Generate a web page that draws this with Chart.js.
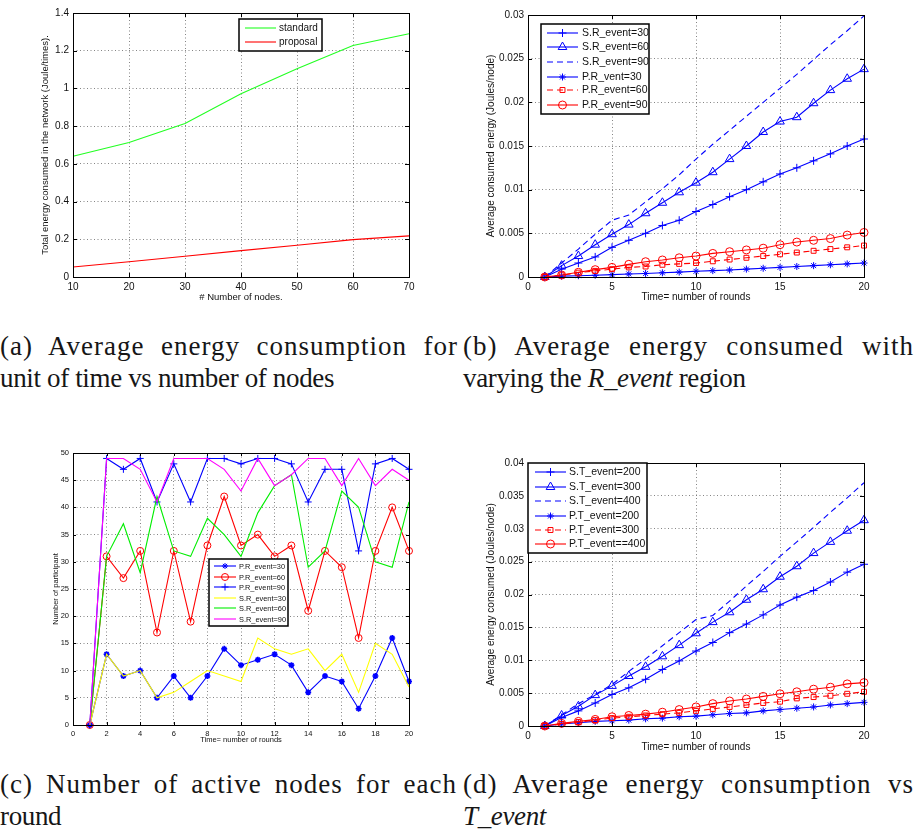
<!DOCTYPE html>
<html>
<head>
<meta charset="utf-8">
<script src="https://cdn.jsdelivr.net/npm/chart.js@4.4.0/dist/chart.umd.min.js"></script>
<style>
  body { margin: 0; background: #fff; width: 915px; height: 836px; position: relative; overflow: hidden; }
  canvas { position: absolute; }
  .cap { position: absolute; font-family: "Liberation Serif", serif; font-size: 27px; line-height: 32px; color: #161616; white-space: nowrap; }
  .just { text-align: justify; text-align-last: justify; letter-spacing: 1px; }
  .tail { letter-spacing: -0.35px; }
</style>
</head>
<body>
<canvas id="chartA" width="460" height="303" style="left:0;top:0"></canvas>
<canvas id="chartB" width="455" height="303" style="left:460px;top:0"></canvas>
<canvas id="chartC" width="460" height="304" style="left:0;top:440px"></canvas>
<canvas id="chartD" width="455" height="313" style="left:460px;top:440px"></canvas>

<div class="cap just" style="left:0;top:330px;width:458px">(a) Average energy consumption for</div>
<div class="cap tail" style="left:0;top:362px">unit of time vs number of nodes</div>
<div class="cap just" style="left:463px;top:330px;width:451px">(b) Average energy consumed with</div>
<div class="cap tail" style="left:463px;top:362px">varying the <i>R_event</i> region</div>
<div class="cap just" style="left:0;top:768px;width:457px">(c) Number of active nodes for each</div>
<div class="cap tail" style="left:0;top:800px">round</div>
<div class="cap just" style="left:463px;top:768px;width:451px">(d) Average energy consumption vs</div>
<div class="cap tail" style="left:463px;top:800px"><i>T_event</i></div>

<script>
const SANS = '"Liberation Sans", Arial, sans-serif';

// (a) energy vs number of nodes
const nodes = [10, 20, 30, 40, 50, 60, 70];
const standardEnergy = [0.64, 0.713, 0.814, 0.972, 1.104, 1.228, 1.29];
const proposalEnergy = [0.053, 0.081, 0.11, 0.14, 0.168, 0.198, 0.218];
const ticksAx = [10, 20, 30, 40, 50, 60, 70];
const ticksAy = [0, 0.2, 0.4, 0.6, 0.8, 1, 1.2, 1.4];

// rounds shared by (b), (c), (d)
const rounds = [1, 2, 3, 4, 5, 6, 7, 8, 9, 10, 11, 12, 13, 14, 15, 16, 17, 18, 19, 20];

// (b) R_event region
const bSR30 = [0, 0.0009, 0.0016, 0.0023, 0.0034, 0.0042, 0.0050, 0.0059, 0.0065, 0.0075, 0.0083, 0.0092, 0.0100, 0.0109, 0.0118, 0.0125, 0.0133, 0.0141, 0.0150, 0.0158];
const bSR60 = [0, 0.0013, 0.0024, 0.0037, 0.0049, 0.0060, 0.0073, 0.0085, 0.0097, 0.0108, 0.0120, 0.0135, 0.0150, 0.0166, 0.0178, 0.0183, 0.0199, 0.0214, 0.0227, 0.0238];
const bSR90 = [0, 0.0016, 0.0032, 0.0049, 0.0065, 0.0071, 0.0086, 0.0101, 0.0117, 0.0135, 0.0152, 0.0168, 0.0184, 0.0200, 0.0216, 0.0232, 0.0249, 0.0266, 0.0282, 0.0299];
const bPR30 = [0, 0.0001, 0.00015, 0.0002, 0.00027, 0.00035, 0.0004, 0.00048, 0.00056, 0.00065, 0.00073, 0.0008, 0.0009, 0.001, 0.0011, 0.0012, 0.0013, 0.0014, 0.0015, 0.0016];
const bPR60 = [0, 0.0002, 0.0005, 0.0007, 0.0009, 0.0011, 0.0012, 0.0014, 0.0015, 0.0016, 0.0018, 0.0020, 0.0022, 0.0024, 0.0026, 0.0028, 0.0030, 0.0032, 0.0034, 0.0036];
const bPR90 = [0, 0.00023, 0.00054, 0.00084, 0.0011, 0.00145, 0.00175, 0.00195, 0.0022, 0.0024, 0.0027, 0.0029, 0.0031, 0.0033, 0.0037, 0.0040, 0.0042, 0.0044, 0.0048, 0.0051];
const ticksBx = [0, 5, 10, 15, 20];
const ticksBy = [0, 0.005, 0.01, 0.015, 0.02, 0.025, 0.03];

// (c) participants per round
const cPR30 = [0, 13, 9, 10, 5, 9, 5, 9, 14, 11, 12, 13, 11, 6, 9, 8, 3, 9, 16, 8];
const cPR60 = [0, 31, 27, 32, 17, 32, 19, 33, 42, 33, 35, 31, 33, 21, 32, 29, 16, 32, 40, 32];
const cPR90 = [0, 49, 47, 49, 41, 48, 41, 49, 49, 48, 49, 49, 48, 41, 47, 47, 32, 48, 49, 47];
const cSR30 = [0, 13, 9, 10, 5, 6, 8, 10, 9, 8, 16, 14, 13, 14, 10, 13, 6, 15, 13, 7];
const cSR60 = [0, 31, 37, 28, 42, 32, 31, 38, 35, 31, 39, 44, 46, 29, 32, 43, 40, 30, 29, 41];
const cSR90 = [0, 49, 49, 47, 41, 49, 49, 49, 47, 43, 49, 44, 46, 49, 49, 44, 49, 44, 47, 45];
const ticksCx = [0, 2, 4, 6, 8, 10, 12, 14, 16, 18, 20];
const ticksCy = [0, 5, 10, 15, 20, 25, 30, 35, 40, 45, 50];

// (d) T_event
const dST200 = [0, 0.0013, 0.0023, 0.0035, 0.0048, 0.0058, 0.0071, 0.0086, 0.0099, 0.0114, 0.0127, 0.0142, 0.0155, 0.0169, 0.0184, 0.0196, 0.0206, 0.0219, 0.0234, 0.0246];
const dST300 = [0, 0.0016, 0.0030, 0.0047, 0.0061, 0.0076, 0.0090, 0.0106, 0.0123, 0.0141, 0.0158, 0.0173, 0.0192, 0.0208, 0.0227, 0.0243, 0.0263, 0.0280, 0.0297, 0.0313];
const dST400 = [0, 0.0017, 0.0034, 0.0048, 0.0063, 0.0083, 0.0102, 0.0122, 0.0142, 0.0162, 0.0168, 0.0190, 0.0213, 0.0235, 0.0258, 0.0280, 0.0302, 0.0325, 0.0347, 0.0370];
const dPT200 = [0, 0.0003, 0.0005, 0.0007, 0.0008, 0.0009, 0.0011, 0.0012, 0.0014, 0.0015, 0.0017, 0.0019, 0.0020, 0.0023, 0.0025, 0.0027, 0.0029, 0.0032, 0.0034, 0.0036];
const dPT300 = [0, 0.0003, 0.0006, 0.0009, 0.0012, 0.0014, 0.0016, 0.0018, 0.0020, 0.0023, 0.0026, 0.0029, 0.0032, 0.0035, 0.0037, 0.0042, 0.0044, 0.0046, 0.0049, 0.0052];
const dPT400 = [0, 0.0004, 0.0007, 0.0010, 0.0014, 0.0016, 0.0018, 0.0021, 0.0025, 0.0029, 0.0034, 0.0038, 0.0041, 0.0045, 0.0049, 0.0052, 0.0056, 0.0059, 0.0064, 0.0066];
const ticksDy = [0, 0.005, 0.01, 0.015, 0.02, 0.025, 0.03, 0.035, 0.04];

const BLUE = '#0000ff', RED = '#ff0000', GREEN = '#00ee00', YELLOW = '#ffff00', MAGENTA = '#ff00ff';

// closed axes box with inward tick marks on all four sides
const matlabBox = {
  id: 'matlabBox',
  afterDatasetsDraw(chart, args, o) {
    const {ctx, chartArea: a, scales: {x, y}} = chart;
    const len = o.tick || 4;
    ctx.save();
    ctx.strokeStyle = '#000';
    ctx.lineWidth = 1;
    ctx.beginPath();
    x.ticks.forEach(t => {
      const px = Math.round(x.getPixelForValue(t.value)) + 0.5;
      ctx.moveTo(px, a.bottom); ctx.lineTo(px, a.bottom - len);
      ctx.moveTo(px, a.top); ctx.lineTo(px, a.top + len);
    });
    y.ticks.forEach(t => {
      const py = Math.round(y.getPixelForValue(t.value)) + 0.5;
      ctx.moveTo(a.left, py); ctx.lineTo(a.left + len, py);
      ctx.moveTo(a.right, py); ctx.lineTo(a.right - len, py);
    });
    ctx.stroke();
    ctx.strokeRect(Math.round(a.left) + 0.5, Math.round(a.top) + 0.5, Math.round(a.right - a.left), Math.round(a.bottom - a.top));
    ctx.restore();
  }
};

// framed legend drawn at a fixed spot inside the axes
const boxLegend = {
  id: 'boxLegend',
  afterDraw(chart, args, o) {
    const ctx = chart.ctx;
    ctx.save();
    ctx.fillStyle = '#fff';
    ctx.fillRect(o.x, o.y, o.w, o.h);
    ctx.strokeStyle = '#000';
    ctx.lineWidth = 1.5;
    ctx.strokeRect(o.x, o.y, o.w, o.h);
    ctx.font = o.size + 'px ' + SANS;
    ctx.textBaseline = 'middle';
    chart.data.datasets.forEach((ds, i) => {
      const ly = o.rows[i];
      ctx.strokeStyle = ds.borderColor;
      ctx.lineWidth = ds.borderWidth;
      ctx.setLineDash(ds.borderDash || []);
      ctx.beginPath();
      ctx.moveTo(o.x0, ly); ctx.lineTo(o.x1, ly);
      ctx.stroke();
      ctx.setLineDash([]);
      if (ds.pointStyle) {
        ctx.fillStyle = 'rgba(0,0,0,0)';
        ctx.lineWidth = 1;
        Chart.helpers.drawPoint(ctx, {pointStyle: ds.pointStyle, radius: ds.pointRadius, rotation: 0, borderWidth: 1}, (o.x0 + o.x1) / 2, ly);
      }
      ctx.fillStyle = '#111';
      ctx.fillText(ds.label, o.tx, ly + 0.5);
    });
    ctx.restore();
  }
};

function fmt(v) { return String(parseFloat(v.toFixed(6))); }

function makeScale(min, max, ticks, tickSize, title, titleSize, fit, isX) {
  return {
    type: 'linear', min: min, max: max,
    afterBuildTicks: s => { s.ticks = ticks.map(v => ({value: v})); },
    ticks: { font: {family: SANS, size: tickSize}, color: '#111', padding: 4, maxRotation: 0, autoSkip: false, callback: fmt },
    grid: { color: '#666', lineWidth: 0.8, drawTicks: false },
    border: { display: false, dash: [1, 2.5] },
    title: { display: true, text: title, font: {family: SANS, size: titleSize}, color: '#111', padding: 0 },
    afterFit: s => { if (isX) s.height = fit; else s.width = fit; }
  };
}

function series(label, xs, ys, color, style, radius, extra) {
  return Object.assign({
    label: label,
    data: xs.map((x, i) => ({x: x, y: ys[i]})),
    borderColor: color, backgroundColor: color, borderWidth: 1.1,
    pointStyle: style || false, pointRadius: style ? radius : 0,
    pointBorderColor: color, pointBackgroundColor: 'rgba(0,0,0,0)', pointBorderWidth: 1,
    tension: 0, clip: false
  }, extra || {});
}

function makeChart(id, datasets, xScale, yScale, pad, legend, tick) {
  // later series sit on top, as in the original plots
  datasets.forEach((d, i) => { d.order = datasets.length - i; });
  return new Chart(document.getElementById(id), {
    type: 'line',
    data: { datasets: datasets },
    options: {
      responsive: false, animation: false,
      layout: { padding: pad },
      plugins: { legend: {display: false}, tooltip: {enabled: false}, boxLegend: legend, matlabBox: {tick: tick} },
      scales: { x: xScale, y: yScale }
    },
    plugins: [matlabBox, boxLegend]
  });
}

const dash = [6, 4];

makeChart('chartA', [
    series('standard', nodes, standardEnergy, '#22ff22'),
    series('proposal', nodes, proposalEnergy, RED)
  ],
  makeScale(10, 70, ticksAx, 10, '# Number of nodes.', 9.5, 26, true),
  makeScale(0, 1.4, ticksAy, 10, 'Total energy consumed in the network (Joule/times).', 9.5, 33, false),
  {left: 40, top: 13, right: 51, bottom: 0},
  {x: 239, y: 19, w: 83, h: 32, rows: [28, 42], x0: 245, x1: 276, tx: 279, size: 10}, 4);

makeChart('chartB', [
    series('S.R_event=30', rounds, bSR30, BLUE, 'cross', 4),
    series('S.R_event=60', rounds, bSR60, BLUE, 'triangle', 5),
    series('S.R_event=90', rounds, bSR90, BLUE, null, 0, {borderDash: dash}),
    series('P.R_vent=30', rounds, bPR30, BLUE, 'star', 3.5),
    series('P.R_event=60', rounds, bPR60, RED, 'rect', 3.5, {borderDash: dash}),
    series('P.R_event=90', rounds, bPR90, RED, 'circle', 4)
  ],
  makeScale(0, 20, ticksBx, 10, 'Time= number of rounds', 10, 26, true),
  makeScale(0, 0.03, ticksBy, 10, 'Average consumed energy (Joules/node)', 10, 43, false),
  {left: 25, top: 15, right: 51, bottom: 0},
  {x: 81, y: 24, w: 108, h: 90, rows: [33, 47, 62, 77, 90, 105], x0: 87, x1: 118, tx: 122, size: 10.5}, 4);

makeChart('chartC', [
    series('P.R_event=30', rounds, cPR30, BLUE, 'star', 3, {pointBorderWidth: 1.6}),
    series('P.R_event=60', rounds, cPR60, RED, 'circle', 3.5),
    series('P.R_event=90', rounds, cPR90, BLUE, 'cross', 3.5),
    series('S.R_event=30', rounds, cSR30, YELLOW),
    series('S.R_event=60', rounds, cSR60, GREEN),
    series('S.R_event=90', rounds, cSR90, MAGENTA)
  ],
  makeScale(0, 20, ticksCx, 7.5, 'Time= number of rounds', 7.5, 19, true),
  makeScale(0, 50, ticksCy, 7.5, 'Number of participant', 7.5, 22, false),
  {left: 51, top: 13, right: 51, bottom: 0},
  {x: 209, y: 119, w: 79, h: 67, rows: [126, 137, 147, 158, 168, 179], x0: 214, x1: 236, tx: 239, size: 7.4}, 3);

makeChart('chartD', [
    series('S.T_event=200', rounds, dST200, BLUE, 'cross', 4),
    series('S.T_event=300', rounds, dST300, BLUE, 'triangle', 5),
    series('S.T_event=400', rounds, dST400, BLUE, null, 0, {borderDash: dash}),
    series('P.T_event=200', rounds, dPT200, BLUE, 'star', 3.5),
    series('P.T_event=300', rounds, dPT300, RED, 'rect', 3.5, {borderDash: dash}),
    series('P.T_event==400', rounds, dPT400, RED, 'circle', 4)
  ],
  makeScale(0, 20, ticksBx, 10, 'Time= number of rounds', 10, 27, true),
  makeScale(0, 0.04, ticksDy, 10, 'Average energy consumed (Joules/node)', 10, 43, false),
  {left: 25, top: 23, right: 51, bottom: 0},
  {x: 68, y: 23, w: 119, h: 90, rows: [32, 47, 61, 76, 90, 104], x0: 75, x1: 106, tx: 109, size: 10.5}, 4);
</script>
</body>
</html>
